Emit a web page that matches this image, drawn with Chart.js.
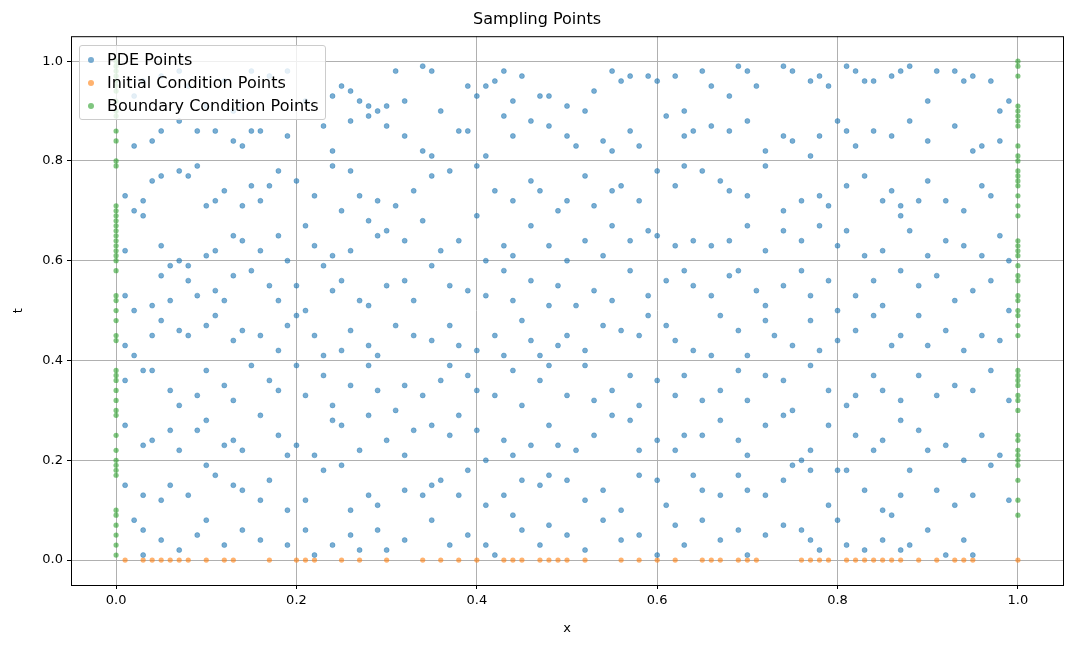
<!DOCTYPE html>
<html>
<head>
<meta charset="utf-8">
<script src="https://cdn.jsdelivr.net/npm/chart.js@4"></script>
<style>
  body { margin: 0; background: #fff; }
  #wrap { position: relative; width: 1080px; height: 648px; }
  #legend { position: absolute; left: 79px; top: 45px; background: rgba(255,255,255,0.8); border: 1px solid #ccc; border-radius: 3px; padding: 2px 6px 2px 6px; font: 16px "DejaVu Sans", sans-serif; color: #000; }
  #legend div { height: 23px; line-height: 23px; }
  #legend span { display: inline-block; width: 6px; height: 6px; border-radius: 50%; margin: 0 13px 2px 2px; vertical-align: middle; }
</style>
</head>
<body>
<div id="wrap">
<canvas id="grafico" width="1080" height="648"></canvas>
<div id="legend">
  <div><span style="background:rgba(31,119,180,0.6)"></span>PDE Points</div>
  <div><span style="background:rgba(255,127,14,0.6)"></span>Initial Condition Points</div>
  <div><span style="background:rgba(44,160,44,0.6)"></span>Boundary Condition Points</div>
</div>
</div>
<script>
// ========== DADOS ==========
const pdePoints = [
  [0.05,0.97],[0.07,0.98],[0.08,0.95],[0.1,0.91],[0.12,0.96],[0.13,0.9],[0.14,0.91],[0.15,0.98],[0.17,0.97],[0.19,0.98],[0.21,0.92],[0.24,0.93],[0.25,0.95],[0.26,0.94],[0.27,0.92],[0.28,0.91],[0.29,0.9],[0.3,0.91],[0.31,0.98],[0.32,0.92],[0.34,0.99],[0.35,0.98],[0.36,0.9],[0.39,0.95],[0.4,0.93],[0.41,0.95],[0.42,0.96],[0.43,0.98],[0.44,0.92],[0.45,0.97],[0.47,0.93],[0.48,0.93],[0.5,0.91],[0.52,0.9],[0.53,0.94],[0.55,0.98],[0.56,0.96],[0.57,0.97],[0.59,0.97],[0.6,0.96],[0.62,0.97],[0.63,0.9],[0.65,0.98],[0.66,0.95],[0.68,0.93],[0.69,0.99],[0.7,0.98],[0.71,0.95],[0.74,0.99],[0.75,0.98],[0.77,0.96],[0.78,0.97],[0.79,0.95],[0.81,0.99],[0.82,0.98],[0.83,0.96],[0.84,0.96],[0.86,0.97],[0.87,0.98],[0.88,0.99],[0.9,0.92],[0.91,0.98],[0.93,0.98],[0.94,0.96],[0.95,0.97],[0.97,0.96],[0.98,0.9],[0.99,0.92],[0.02,0.93],[0.03,0.96],
  [0.02,0.83],[0.04,0.84],[0.05,0.86],[0.07,0.88],[0.09,0.86],[0.11,0.86],[0.13,0.84],[0.14,0.83],[0.15,0.86],[0.16,0.86],[0.19,0.85],[0.23,0.87],[0.24,0.82],[0.26,0.88],[0.28,0.89],[0.3,0.87],[0.32,0.85],[0.34,0.82],[0.35,0.81],[0.38,0.86],[0.39,0.86],[0.41,0.81],[0.43,0.89],[0.44,0.85],[0.46,0.88],[0.48,0.87],[0.5,0.85],[0.51,0.83],[0.54,0.84],[0.55,0.82],[0.57,0.86],[0.58,0.83],[0.61,0.89],[0.63,0.85],[0.64,0.86],[0.66,0.87],[0.68,0.86],[0.7,0.88],[0.72,0.82],[0.74,0.85],[0.75,0.84],[0.77,0.81],[0.78,0.85],[0.8,0.88],[0.81,0.86],[0.82,0.83],[0.84,0.86],[0.86,0.85],[0.88,0.88],[0.9,0.84],[0.93,0.87],[0.95,0.82],[0.96,0.83],[0.98,0.84],
  [0.01,0.73],[0.02,0.7],[0.03,0.72],[0.04,0.76],[0.05,0.77],[0.07,0.78],[0.08,0.77],[0.09,0.79],[0.1,0.71],[0.11,0.72],[0.12,0.74],[0.14,0.71],[0.15,0.75],[0.16,0.72],[0.17,0.75],[0.18,0.78],[0.2,0.76],[0.22,0.73],[0.24,0.79],[0.25,0.7],[0.26,0.78],[0.27,0.73],[0.29,0.72],[0.31,0.71],[0.33,0.74],[0.35,0.77],[0.37,0.78],[0.4,0.79],[0.42,0.74],[0.44,0.72],[0.46,0.76],[0.47,0.74],[0.49,0.7],[0.5,0.72],[0.52,0.77],[0.53,0.71],[0.55,0.74],[0.56,0.75],[0.58,0.72],[0.6,0.78],[0.62,0.75],[0.63,0.79],[0.65,0.78],[0.67,0.76],[0.68,0.74],[0.7,0.73],[0.72,0.79],[0.74,0.7],[0.76,0.72],[0.78,0.73],[0.79,0.71],[0.81,0.75],[0.83,0.77],[0.85,0.72],[0.86,0.74],[0.87,0.71],[0.89,0.72],[0.9,0.76],[0.92,0.72],[0.94,0.7],[0.96,0.75],[0.97,0.73],
  [0.01,0.62],[0.03,0.69],[0.05,0.63],[0.06,0.59],[0.07,0.6],[0.08,0.59],[0.1,0.61],[0.11,0.62],[0.13,0.65],[0.14,0.64],[0.16,0.62],[0.18,0.65],[0.19,0.6],[0.21,0.67],[0.22,0.63],[0.24,0.61],[0.26,0.62],[0.28,0.68],[0.29,0.65],[0.3,0.66],[0.32,0.64],[0.34,0.68],[0.36,0.62],[0.38,0.64],[0.4,0.69],[0.41,0.6],[0.43,0.63],[0.44,0.61],[0.46,0.67],[0.48,0.63],[0.5,0.6],[0.52,0.64],[0.54,0.61],[0.55,0.67],[0.57,0.64],[0.59,0.66],[0.6,0.65],[0.62,0.63],[0.64,0.64],[0.66,0.63],[0.68,0.64],[0.7,0.67],[0.72,0.62],[0.74,0.66],[0.76,0.64],[0.78,0.67],[0.8,0.63],[0.81,0.66],[0.83,0.61],[0.85,0.62],[0.87,0.69],[0.88,0.66],[0.9,0.61],[0.92,0.64],[0.94,0.63],[0.96,0.61],[0.98,0.65],[0.99,0.6],
  [0.01,0.53],[0.02,0.5],[0.04,0.51],[0.05,0.57],[0.06,0.52],[0.08,0.56],[0.09,0.53],[0.11,0.54],[0.12,0.52],[0.13,0.57],[0.15,0.58],[0.17,0.55],[0.18,0.52],[0.2,0.55],[0.21,0.5],[0.23,0.59],[0.24,0.54],[0.25,0.56],[0.27,0.52],[0.28,0.51],[0.3,0.55],[0.32,0.56],[0.33,0.52],[0.35,0.59],[0.37,0.55],[0.39,0.54],[0.41,0.53],[0.43,0.58],[0.44,0.52],[0.46,0.56],[0.48,0.51],[0.49,0.55],[0.51,0.51],[0.53,0.54],[0.55,0.52],[0.57,0.58],[0.59,0.53],[0.61,0.56],[0.63,0.58],[0.64,0.55],[0.66,0.53],[0.68,0.57],[0.69,0.58],[0.71,0.54],[0.72,0.51],[0.74,0.55],[0.76,0.58],[0.77,0.53],[0.79,0.56],[0.8,0.5],[0.82,0.53],[0.84,0.56],[0.85,0.51],[0.87,0.58],[0.89,0.55],[0.91,0.57],[0.93,0.52],[0.95,0.54],[0.97,0.56],[0.99,0.5],
  [0.01,0.43],[0.02,0.41],[0.04,0.45],[0.05,0.48],[0.07,0.46],[0.08,0.45],[0.1,0.47],[0.11,0.49],[0.13,0.44],[0.14,0.46],[0.16,0.45],[0.18,0.42],[0.19,0.47],[0.2,0.49],[0.22,0.45],[0.23,0.41],[0.25,0.42],[0.26,0.46],[0.28,0.43],[0.29,0.41],[0.31,0.47],[0.33,0.45],[0.35,0.44],[0.37,0.47],[0.38,0.43],[0.4,0.42],[0.42,0.45],[0.43,0.41],[0.45,0.48],[0.46,0.44],[0.47,0.41],[0.49,0.43],[0.5,0.45],[0.52,0.42],[0.54,0.47],[0.56,0.46],[0.58,0.45],[0.59,0.49],[0.61,0.47],[0.62,0.44],[0.64,0.42],[0.66,0.41],[0.67,0.49],[0.69,0.46],[0.7,0.41],[0.72,0.48],[0.73,0.45],[0.75,0.43],[0.77,0.48],[0.78,0.42],[0.8,0.44],[0.82,0.46],[0.84,0.49],[0.86,0.43],[0.87,0.45],[0.89,0.49],[0.9,0.43],[0.92,0.46],[0.94,0.42],[0.96,0.45],[0.98,0.44],
  [0.01,0.36],[0.03,0.38],[0.04,0.38],[0.06,0.34],[0.07,0.31],[0.09,0.33],[0.1,0.38],[0.12,0.35],[0.13,0.32],[0.15,0.39],[0.17,0.36],[0.18,0.34],[0.2,0.39],[0.21,0.33],[0.23,0.37],[0.24,0.31],[0.26,0.35],[0.28,0.39],[0.29,0.34],[0.31,0.3],[0.32,0.35],[0.34,0.33],[0.36,0.36],[0.37,0.39],[0.39,0.37],[0.4,0.34],[0.42,0.33],[0.44,0.38],[0.45,0.31],[0.47,0.36],[0.48,0.39],[0.5,0.33],[0.52,0.39],[0.53,0.32],[0.55,0.34],[0.57,0.37],[0.58,0.31],[0.6,0.36],[0.62,0.33],[0.63,0.37],[0.65,0.32],[0.67,0.34],[0.69,0.38],[0.7,0.32],[0.72,0.37],[0.74,0.36],[0.75,0.3],[0.77,0.39],[0.79,0.34],[0.81,0.31],[0.82,0.33],[0.84,0.37],[0.85,0.34],[0.87,0.32],[0.89,0.37],[0.91,0.33],[0.93,0.35],[0.95,0.34],[0.97,0.38],[0.99,0.32],
  [0.01,0.27],[0.03,0.23],[0.04,0.24],[0.06,0.26],[0.07,0.22],[0.09,0.26],[0.1,0.28],[0.12,0.23],[0.13,0.24],[0.14,0.22],[0.16,0.29],[0.18,0.25],[0.19,0.21],[0.2,0.23],[0.22,0.21],[0.24,0.28],[0.25,0.27],[0.27,0.22],[0.28,0.29],[0.3,0.24],[0.32,0.21],[0.33,0.26],[0.35,0.27],[0.37,0.25],[0.38,0.29],[0.4,0.26],[0.41,0.2],[0.43,0.24],[0.44,0.21],[0.46,0.23],[0.48,0.27],[0.49,0.23],[0.51,0.22],[0.53,0.25],[0.55,0.29],[0.57,0.28],[0.58,0.22],[0.6,0.24],[0.62,0.22],[0.63,0.25],[0.65,0.25],[0.67,0.28],[0.69,0.24],[0.7,0.21],[0.72,0.27],[0.74,0.29],[0.76,0.2],[0.77,0.22],[0.79,0.27],[0.8,0.18],[0.82,0.25],[0.84,0.22],[0.85,0.24],[0.87,0.28],[0.89,0.26],[0.9,0.22],[0.92,0.23],[0.94,0.2],[0.96,0.25],[0.98,0.21],
  [0.01,0.15],[0.03,0.13],[0.05,0.12],[0.06,0.15],[0.08,0.13],[0.1,0.19],[0.11,0.17],[0.13,0.15],[0.14,0.14],[0.16,0.12],[0.17,0.16],[0.19,0.1],[0.21,0.12],[0.23,0.18],[0.25,0.19],[0.26,0.1],[0.28,0.13],[0.29,0.11],[0.32,0.14],[0.34,0.13],[0.35,0.15],[0.36,0.16],[0.38,0.13],[0.39,0.18],[0.41,0.11],[0.43,0.13],[0.45,0.16],[0.47,0.15],[0.48,0.17],[0.5,0.16],[0.52,0.12],[0.54,0.14],[0.56,0.1],[0.58,0.17],[0.6,0.16],[0.61,0.11],[0.64,0.17],[0.65,0.14],[0.67,0.13],[0.69,0.17],[0.7,0.14],[0.72,0.13],[0.74,0.16],[0.75,0.19],[0.77,0.18],[0.79,0.11],[0.81,0.18],[0.83,0.14],[0.85,0.1],[0.87,0.13],[0.88,0.18],[0.91,0.14],[0.93,0.11],[0.95,0.13],[0.97,0.19],[0.99,0.12],
  [0.02,0.08],[0.03,0.06],[0.03,0.01],[0.05,0.04],[0.07,0.02],[0.09,0.05],[0.1,0.08],[0.12,0.03],[0.14,0.06],[0.16,0.04],[0.19,0.03],[0.21,0.06],[0.22,0.01],[0.24,0.03],[0.26,0.05],[0.27,0.02],[0.29,0.06],[0.3,0.02],[0.32,0.04],[0.35,0.08],[0.37,0.03],[0.39,0.05],[0.41,0.03],[0.42,0.01],[0.44,0.09],[0.45,0.06],[0.47,0.03],[0.48,0.07],[0.5,0.05],[0.52,0.02],[0.54,0.08],[0.56,0.04],[0.58,0.05],[0.6,0.01],[0.62,0.07],[0.63,0.03],[0.65,0.08],[0.67,0.04],[0.69,0.06],[0.7,0.01],[0.72,0.05],[0.74,0.07],[0.76,0.06],[0.77,0.04],[0.78,0.02],[0.8,0.08],[0.81,0.03],[0.83,0.02],[0.85,0.04],[0.86,0.09],[0.87,0.02],[0.88,0.03],[0.9,0.06],[0.92,0.01],[0.94,0.04],[0.95,0.01]
];
const initialX = [0.01,0.03,0.04,0.05,0.06,0.07,0.08,0.1,0.12,0.13,0.17,0.2,0.21,0.22,0.25,0.27,0.3,0.34,0.36,0.38,0.4,0.43,0.44,0.45,0.47,0.48,0.49,0.5,0.52,0.56,0.58,0.6,0.62,0.65,0.66,0.67,0.69,0.7,0.71,0.76,0.77,0.78,0.79,0.81,0.82,0.83,0.84,0.85,0.86,0.87,0.89,0.91,0.93,0.94,0.95,1.0];
const boundaryLeftT = [0.01,0.03,0.05,0.07,0.09,0.1,0.17,0.18,0.19,0.2,0.22,0.25,0.29,0.3,0.32,0.34,0.36,0.37,0.38,0.44,0.45,0.48,0.5,0.52,0.53,0.58,0.6,0.61,0.62,0.63,0.64,0.65,0.66,0.67,0.68,0.69,0.7,0.71,0.79,0.8,0.84,0.86,0.89,0.9,0.92,0.94,0.95,0.96,0.97,0.98,0.99,1.0];
const boundaryRightT = [0.09,0.12,0.16,0.19,0.2,0.21,0.22,0.24,0.25,0.3,0.32,0.33,0.35,0.36,0.37,0.38,0.45,0.47,0.49,0.5,0.52,0.53,0.56,0.57,0.59,0.61,0.62,0.63,0.64,0.69,0.71,0.73,0.75,0.76,0.77,0.78,0.8,0.81,0.83,0.87,0.88,0.89,0.9,0.91,0.97,0.99,1.0];
const tickValues = [0, 0.2, 0.4, 0.6, 0.8, 1.0];

const boundaryPoints = boundaryLeftT.map(t => ({x: 0, y: t}))
  .concat(boundaryRightT.map(t => ({x: 1, y: t})));

// moldura do eixo (estilo matplotlib)
const frame = {
  id: 'frame',
  afterDraw(chart) {
    const {ctx, chartArea: a} = chart;
    ctx.save();
    ctx.strokeStyle = '#000';
    ctx.lineWidth = 1;
    ctx.strokeRect(a.left + 0.5, a.top + 0.5, a.right - a.left, a.bottom - a.top);
    ctx.restore();
  }
};

const font = { family: 'DejaVu Sans', size: 13 };
const fixTicks = s => { s.ticks = tickValues.map(v => ({value: v})); };

new Chart(document.getElementById('grafico'), {
  type: 'scatter',
  data: {
    datasets: [
      { label: 'PDE Points', data: pdePoints.map(p => ({x: p[0], y: p[1]})), backgroundColor: 'rgba(31,119,180,0.6)', borderColor: 'rgba(31,119,180,0.8)', borderWidth: 0.5, pointRadius: 2.5 },
      { label: 'Initial Condition Points', data: initialX.map(x => ({x: x, y: 0})), backgroundColor: 'rgba(255,127,14,0.6)', borderWidth: 0, pointRadius: 2.6 },
      { label: 'Boundary Condition Points', data: boundaryPoints, backgroundColor: 'rgba(44,160,44,0.6)', borderWidth: 0, pointRadius: 2.6 }
    ]
  },
  options: {
    responsive: false,
    animation: false,
    layout: { padding: { left: 11, right: 17, top: 0, bottom: 12 } },
    plugins: {
      legend: { display: false },
      tooltip: { enabled: false },
      title: { display: true, text: 'Sampling Points', color: '#000', font: { family: 'DejaVu Sans', size: 16, weight: 'normal' }, padding: { top: 10, bottom: 7 } }
    },
    scales: {
      x: {
        type: 'linear', min: -0.05, max: 1.05,
        afterBuildTicks: fixTicks,
        afterFit: s => { s.height = 51; },
        grid: { color: '#b0b0b0', tickColor: '#000', tickLength: 4 },
        border: { display: false },
        ticks: { color: '#000', font: font, padding: 4, maxRotation: 0, callback: v => v.toFixed(1) },
        title: { display: true, text: 'x', color: '#000', font: font, padding: { top: 2, bottom: 0 } }
      },
      y: {
        type: 'linear', min: -0.05, max: 1.05,
        afterBuildTicks: fixTicks,
        afterFit: s => { s.width = 60; },
        grid: { color: '#b0b0b0', tickColor: '#000', tickLength: 4 },
        border: { display: false },
        ticks: { color: '#000', font: font, padding: 4, callback: v => v.toFixed(1) },
        title: { display: true, text: 't', color: '#000', font: font, padding: { top: 0, bottom: 0 } }
      }
    }
  },
  plugins: [frame]
});
</script>
</body>
</html>
